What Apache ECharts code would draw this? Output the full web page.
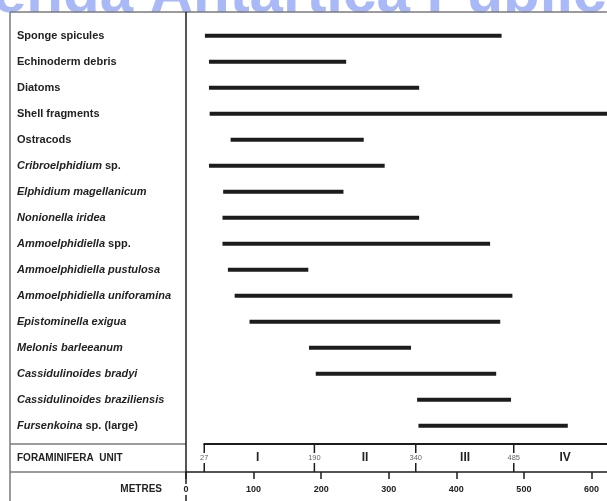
<!DOCTYPE html>
<html>
<head>
<meta charset="utf-8">
<script src="https://cdn.jsdelivr.net/npm/echarts@6/dist/echarts.min.js"></script>
<style>
html,body{margin:0;padding:0;background:#fff;}
#chart{width:607px;height:501px;}
</style>
</head>
<body>
<div id="chart"></div>
<script>
// ---- data ----
const categories = [
  'Sponge spicules',
  'Echinoderm debris',
  'Diatoms',
  'Shell fragments',
  'Ostracods',
  '{i|Cribroelphidium} sp.',
  '{i|Elphidium magellanicum}',
  '{i|Nonionella iridea}',
  '{i|Ammoelphidiella} spp.',
  '{i|Ammoelphidiella pustulosa}',
  '{i|Ammoelphidiella uniforamina}',
  '{i|Epistominella exigua}',
  '{i|Melonis barleeanum}',
  '{i|Cassidulinoides bradyi}',
  '{i|Cassidulinoides braziliensis}',
  '{i|Fursenkoina} sp. (large)'
];
const rangeStart = [28, 34, 34, 35, 66, 34, 55, 54, 54, 62, 72, 94, 182, 192, 342, 344];
const rangeEnd   = [467, 237, 345, 623, 263, 294, 233, 345, 450, 181, 483, 465, 333, 459, 481, 565];
const unitBoundaries = [27, 190, 340, 485];
const unitNames = ['I', 'II', 'III', 'IV'];
const unitCenters = [106, 265, 413, 561];
const unitRowLabel = ['FORAMINIFERA  UNIT'];
const axisMax = 623;
const axisInterval = 100;

// ---- chart ----
const FONT = "'Liberation Sans', Arial, sans-serif";
const chart = echarts.init(document.getElementById('chart'), null, {renderer: 'canvas'});
const GRAY = '#7a7a7a';
const INK = '#1c1c1c';

const option = {
  animation: false,
  backgroundColor: '#fff',
  textStyle: {fontFamily: FONT},
  grid: [
    {left: 186, top: 22.7, width: 421, height: 416},
    {left: 186, top: 444, width: 421, height: 28}
  ],
  xAxis: [
    {gridIndex: 0, type: 'value', min: 0, max: axisMax, interval: axisInterval, show: false},
    {
      gridIndex: 1, type: 'value', min: 0, max: axisMax, interval: axisInterval,
      position: 'bottom', z: 10,
      axisLine: {show: true, lineStyle: {color: INK, width: 1.5}},
      axisTick: {show: true, length: 7, lineStyle: {color: INK, width: 1.5}},
      splitLine: {show: false},
      axisLabel: {
        fontSize: 9, fontWeight: 'bold', color: '#222', fontFamily: FONT,
        margin: 12, showMaxLabel: false, backgroundColor: '#fff', padding: [1, 1]
      }
    }
  ],
  yAxis: [
    {
      gridIndex: 0, type: 'category', data: categories, inverse: true,
      axisLine: {show: false}, axisTick: {show: false}, splitLine: {show: false},
      axisLabel: {
        interval: 0, align: 'left', margin: 169, fontSize: 11, fontWeight: 'bold',
        color: '#222', fontFamily: FONT,
        rich: {i: {fontStyle: 'italic', fontWeight: 'bold', fontSize: 11, color: '#222', fontFamily: FONT}}
      }
    },
    {
      gridIndex: 1, type: 'category', data: unitRowLabel,
      axisLine: {show: false}, axisTick: {show: false}, splitLine: {show: false},
      axisLabel: {
        interval: 0, align: 'left', margin: 169, fontSize: 10, fontWeight: 'bold',
        color: '#222', fontFamily: FONT
      }
    }
  ],
  series: [
    {
      type: 'custom', xAxisIndex: 0, yAxisIndex: 0, clip: true,
      encode: {x: [1, 2], y: 0},
      data: categories.map((c, i) => [i, rangeStart[i], rangeEnd[i]]),
      renderItem: function (params, api) {
        const p0 = api.coord([api.value(1), api.value(0)]);
        const p1 = api.coord([api.value(2), api.value(0)]);
        return {
          type: 'line',
          shape: {x1: p0[0], y1: p0[1], x2: p1[0], y2: p1[1]},
          style: {stroke: INK, lineWidth: 4, lineCap: 'butt'}
        };
      }
    },
    {
      type: 'custom', xAxisIndex: 1, yAxisIndex: 1, clip: false, z: 5,
      encode: {x: 0, y: 1},
      data: unitBoundaries.map(v => [v, 0]),
      renderItem: function (params, api) {
        const c = api.coord([api.value(0), 0]);
        const h = api.size([0, 1])[1];
        const top = c[1] - h / 2, bottom = c[1] + h / 2;
        const children = [
          {type: 'line', shape: {x1: c[0], y1: top, x2: c[0], y2: bottom},
           style: {stroke: INK, lineWidth: 1.5}},
          {type: 'text', x: c[0], y: c[1],
           style: {text: String(api.value(0)), fontSize: 7.5, fontFamily: FONT, fill: '#666',
                   align: 'center', verticalAlign: 'middle', backgroundColor: '#fff', padding: [1, 0]}}
        ];
        if (params.dataIndex === 0) {
          const right = params.coordSys.x + params.coordSys.width;
          children.push({type: 'line', shape: {x1: c[0] - 0.75, y1: top, x2: right, y2: top},
                         style: {stroke: INK, lineWidth: 2}});
        }
        return {type: 'group', children: children};
      }
    },
    {
      type: 'custom', xAxisIndex: 1, yAxisIndex: 1, clip: false, z: 5,
      encode: {x: 0, y: 1},
      data: unitCenters.map(v => [v, 0]),
      renderItem: function (params, api) {
        const c = api.coord([api.value(0), 0]);
        return {
          type: 'text', x: c[0], y: c[1],
          style: {text: unitNames[params.dataIndex], fontSize: 12, fontWeight: 'bold',
                  fontFamily: FONT, fill: '#222', align: 'center', verticalAlign: 'middle'}
        };
      }
    }
  ],
  graphic: [
    {type: 'text', x: -7, y: -5, z: -10, silent: true,
     style: {text: 'enda Antártica Publicaciones', fontSize: 60, fontWeight: 'bold',
             fontFamily: FONT, fill: '#a9b8f7', align: 'left', verticalAlign: 'middle'}},
    {type: 'line', z: 1, shape: {x1: 10, y1: 12, x2: 10, y2: 501}, style: {stroke: GRAY, lineWidth: 1.5}},
    {type: 'line', z: 1, shape: {x1: 10, y1: 12, x2: 607, y2: 12}, style: {stroke: GRAY, lineWidth: 1.5}},
    {type: 'line', z: 1, shape: {x1: 10, y1: 444, x2: 186, y2: 444}, style: {stroke: GRAY, lineWidth: 1.5}},
    {type: 'line', z: 1, shape: {x1: 10, y1: 472, x2: 186, y2: 472}, style: {stroke: GRAY, lineWidth: 1.5}},
    {type: 'line', z: 1, shape: {x1: 186, y1: 12, x2: 186, y2: 501}, style: {stroke: INK, lineWidth: 1.5}},
    {type: 'text', x: 162, y: 489, z: 2,
     style: {text: 'METRES', fontSize: 10, fontWeight: 'bold', fontFamily: FONT, fill: '#222',
             align: 'right', verticalAlign: 'middle'}}
  ]
};
chart.setOption(option);
</script>
</body>
</html>
